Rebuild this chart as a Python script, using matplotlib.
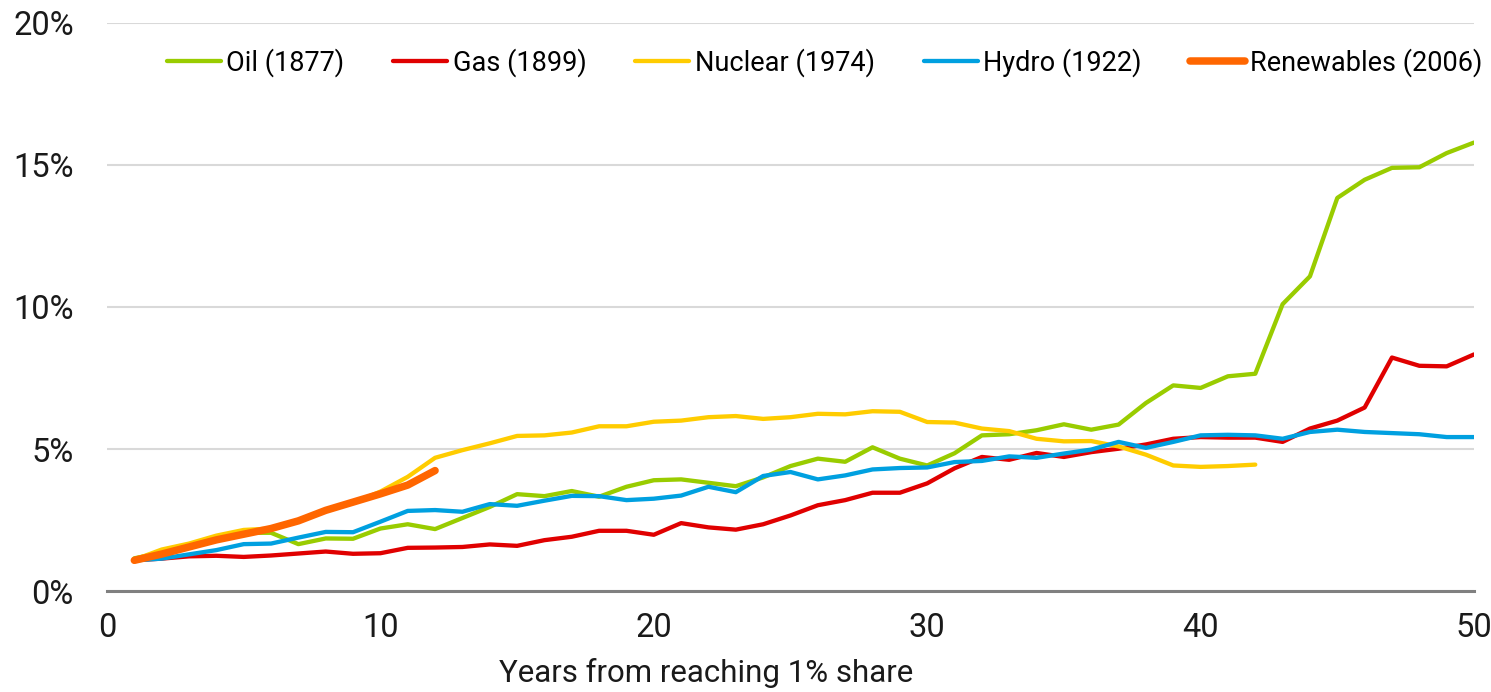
import numpy as np
import matplotlib
matplotlib.use('Agg')
import matplotlib.pyplot as plt
from matplotlib.ticker import FuncFormatter

# years after each source first reached 1% of world primary energy
years = list(range(1, 51))

oil = [1.15, 1.35, 1.55, 1.8, 2.05, 2.05, 1.65, 1.85, 1.84, 2.2,
       2.35, 2.18, 2.57, 2.96, 3.41, 3.34, 3.52, 3.32, 3.67, 3.9,
       3.93, 3.81, 3.69, 4.0, 4.4, 4.66, 4.55, 5.06, 4.66, 4.42,
       4.85, 5.48, 5.52, 5.66, 5.87, 5.68, 5.86, 6.62, 7.24, 7.15,
       7.56, 7.65, 10.1, 11.08, 13.84, 14.48, 14.9, 14.92, 15.42, 15.79]

gas = [1.08, 1.14, 1.22, 1.24, 1.2, 1.25, 1.32, 1.39, 1.31, 1.33,
       1.52, 1.53, 1.55, 1.64, 1.59, 1.79, 1.91, 2.12, 2.12, 1.98,
       2.39, 2.24, 2.16, 2.35, 2.66, 3.02, 3.2, 3.46, 3.46, 3.79,
       4.32, 4.72, 4.62, 4.86, 4.72, 4.89, 5.01, 5.16, 5.36, 5.42,
       5.4, 5.4, 5.25, 5.72, 6.0, 6.46, 8.22, 7.93, 7.91, 8.33]

nuclear = [1.1, 1.46, 1.67, 1.95, 2.15, 2.2, 2.45, 2.85, 3.1, 3.5,
           4.02, 4.69, 4.96, 5.2, 5.46, 5.48, 5.58, 5.8, 5.8, 5.96,
           6.0, 6.12, 6.16, 6.06, 6.12, 6.24, 6.22, 6.33, 6.31, 5.95,
           5.93, 5.72, 5.63, 5.36, 5.27, 5.28, 5.09, 4.8, 4.42, 4.37,
           4.4, 4.45]

hydro = [1.08, 1.14, 1.29, 1.44, 1.65, 1.67, 1.88, 2.08, 2.07, 2.44,
         2.82, 2.85, 2.79, 3.06, 3.0, 3.18, 3.35, 3.34, 3.2, 3.25,
         3.36, 3.67, 3.48, 4.05, 4.19, 3.93, 4.07, 4.28, 4.33, 4.35,
         4.54, 4.58, 4.74, 4.69, 4.84, 4.98, 5.25, 5.04, 5.25, 5.48,
         5.5, 5.48, 5.36, 5.6, 5.68, 5.6, 5.56, 5.52, 5.42, 5.42]

renewables = [1.08, 1.3, 1.55, 1.8, 2.0, 2.2, 2.47, 2.84, 3.13, 3.42,
              3.73, 4.24]

series = [
    ('Oil (1877)', oil, '#99cc00', 3.1),
    ('Gas (1899)', gas, '#e00000', 3.1),
    ('Nuclear (1974)', nuclear, '#ffcc00', 3.1),
    ('Hydro (1922)', hydro, '#00a0e0', 3.1),
    ('Renewables (2006)', renewables, '#ff6600', 5.4),
]

plt.rcParams['font.family'] = ['Roboto', 'DejaVu Sans']

fig = plt.figure(figsize=(14.91, 6.92), dpi=100)
ax = fig.add_axes([107 / 1491, 101 / 692, 1367 / 1491, 568 / 692])

for name, vals, col, lw in series:
    ax.plot(years[:len(vals)], vals, color=col, lw=lw, label=name,
            solid_capstyle='round', solid_joinstyle='round')

ax.set_xlim(0, 50)
ax.set_ylim(0, 20)
ax.set_xticks(range(0, 51, 10))
ax.set_yticks(range(0, 21, 5))
ax.yaxis.set_major_formatter(FuncFormatter(lambda v, p: f'{v:.0f}%'))
ax.grid(axis='y', color='#d9d9d9', lw=1.5)
ax.set_axisbelow(True)
for s in ['left', 'right', 'top']:
    ax.spines[s].set_visible(False)
ax.spines['bottom'].set_color('#808080')
ax.spines['bottom'].set_linewidth(2.2)
ax.tick_params(axis='both', length=0, labelsize=23.5, colors='#1a1a1a')
ax.tick_params(axis='y', pad=24)
ax.tick_params(axis='x', pad=15)

ax.set_xlabel('Years from reaching 1% share', fontsize=22.5, color='#1a1a1a')
ax.xaxis.set_label_coords(0.438, -0.118)

fig.legend(loc='center', bbox_to_anchor=(0.553, 0.91), ncol=5, frameon=False,
           fontsize=19.5, handlelength=2.0, handletextpad=0.2, columnspacing=1.8)

fig.savefig('out.png', dpi=100)
